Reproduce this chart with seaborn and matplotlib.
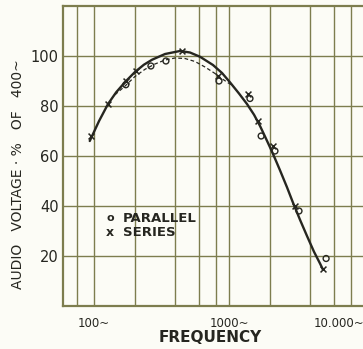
import numpy as np
import pandas as pd
import matplotlib
matplotlib.use("Agg")
import matplotlib.pyplot as plt
import seaborn as sns

# ---- data ----
parallel_freq = [172, 264, 341, 843, 1430, 1730, 2190, 3300, 5240]
parallel_volt = [88.5, 96, 98, 90, 83, 68, 62, 38, 19]

series_freq = [95, 128, 172, 203, 447, 830, 1385, 1640, 2110, 3080, 4970]
series_volt = [68, 81, 90, 94, 102, 92, 85, 74, 64, 40, 15]

# solid (series) curve
curve_freq = [93, 109, 127, 146, 170, 201, 234, 269, 336, 433, 514, 610, 761, 888,
              1016, 1186, 1359, 1533, 1698, 1848, 2012, 2191, 2386, 2689, 2980,
              3357, 3783, 4262, 4723, 4970]
curve_volt = [66, 74, 80.8, 85.5, 89.6, 93.6, 96.5, 98.5, 100.8, 102, 101.4, 99.7,
              96.4, 93.2, 89.5, 85, 80.8, 76.5, 72, 67.8, 63.5, 59, 54.3, 47.5,
              41.3, 34.5, 28, 21.7, 17, 14.5]

# dashed (parallel) curve
dash_freq = [143, 170, 201, 239, 283, 336, 398, 472, 560, 664, 788, 888, 983, 1053]
dash_volt = [84.5, 88, 91.8, 94.7, 96.8, 98.4, 99.2, 99, 97.8, 95.6, 93, 90.9, 89.3, 88.3]

y_ticks = [20, 40, 60, 80, 100]
x_ticks = [100, 1000, 10000]
x_tick_labels = ["100~", "1000~", "10.000~"]
x_grid = [75, 100, 200, 400, 600, 800, 1000, 2000, 4000, 6000, 8000]

sns.set_style("white")
plt.rcParams['font.family'] = ['DejaVu Sans']

GRID = "#7d7d4e"
INK = "#262620"
BG = "#fcfcf6"

W, H = 363, 349
fig = plt.figure(figsize=(W / 100, H / 100), dpi=100, facecolor=BG)

px_per_dec = 135.0
x_left = 10 ** (2 + (63 - 94) / px_per_dec)
x_right = 10500
width_px = (np.log10(x_right) - np.log10(x_left)) * px_per_dec
ax = fig.add_axes([63 / W, 43 / H, width_px / W, 300 / H])
ax.set_facecolor(BG)
ax.set_xscale("log")
ax.set_xlim(x_left, x_right)
ax.set_ylim(0, 120)

for gx in x_grid:
    ax.axvline(gx, color=GRID, lw=1.0, zorder=1)
for gy in y_ticks:
    ax.axhline(gy, color=GRID, lw=1.0, zorder=1)

for side in ["left", "bottom", "top"]:
    ax.spines[side].set_color(GRID)
    ax.spines[side].set_linewidth(1.6)
ax.spines["right"].set_visible(False)

df_curve = pd.DataFrame({"f": curve_freq, "v": curve_volt})
df_dash = pd.DataFrame({"f": dash_freq, "v": dash_volt})
sns.lineplot(data=df_curve, x="f", y="v", ax=ax, color=INK, lw=1.7, sort=True, zorder=3)
sns.lineplot(data=df_dash, x="f", y="v", ax=ax, color=INK, lw=0.9, sort=True,
             linestyle=(0, (3, 2)), zorder=3)

df_par = pd.DataFrame({"f": parallel_freq, "v": parallel_volt})
df_ser = pd.DataFrame({"f": series_freq, "v": series_volt})
sns.scatterplot(data=df_par, x="f", y="v", ax=ax, marker="o", s=18,
                facecolors="none", edgecolors=INK, linewidths=1.0, zorder=4)
sns.scatterplot(data=df_ser, x="f", y="v", ax=ax, marker="x", s=18,
                color=INK, linewidths=1.1, zorder=4)

ax.set_yticks(y_ticks)
ax.set_yticklabels([str(t) for t in y_ticks], fontsize=10.5, color=INK)
ax.set_xticks(x_ticks)
ax.set_xticklabels(x_tick_labels, fontsize=8.5, color=INK)
ax.xaxis.set_minor_locator(matplotlib.ticker.NullLocator())
ax.tick_params(axis="y", length=2, pad=1, color=GRID)
ax.tick_params(axis="x", length=0, pad=8)
xl = ax.get_xticklabels()
xl[-1].set_ha("right")

ax.set_xlabel("")
ax.set_ylabel("")
fig.text(210 / W, 1 - 337 / H, "FREQUENCY", fontsize=11, color=INK,
         ha="center", va="center", fontweight="bold")
fig.text(18 / W, 1 - 174 / H, "AUDIO   VOLTAGE · %   OF   400~", fontsize=10, color=INK,
         ha="center", va="center", rotation=90)

# legend drawn as text, like the original
fig.text(110 / W, 1 - 218 / H, "o", fontsize=8, color=INK, ha="center", va="center", fontweight="bold")
fig.text(110 / W, 1 - 233 / H, "x", fontsize=9, color=INK, ha="center", va="center", fontweight="bold")
fig.text(123 / W, 1 - 218 / H, "PARALLEL", fontsize=9.5, color=INK, ha="left", va="center", fontweight="bold")
fig.text(123 / W, 1 - 233 / H, "SERIES", fontsize=9.5, color=INK, ha="left", va="center", fontweight="bold")

fig.savefig("out.png", dpi=100, facecolor=BG)
